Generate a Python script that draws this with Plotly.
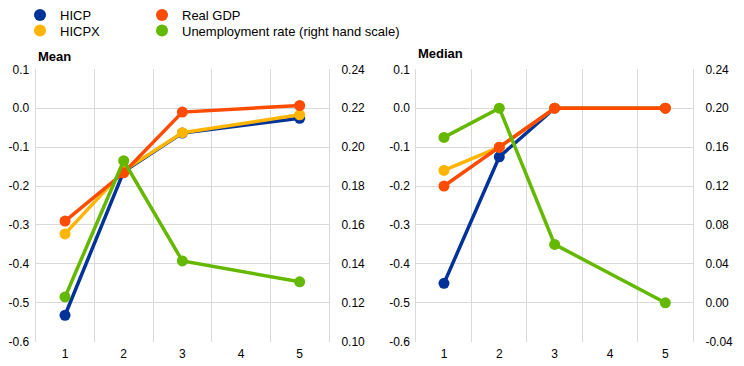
import plotly.graph_objects as go

x = [1, 2, 3, 4, 5]

mean_hicp = [-0.532, -0.163, -0.064, None, -0.026]
mean_hicpx = [-0.323, -0.160, -0.063, None, -0.017]
mean_gdp = [-0.290, -0.166, -0.010, None, 0.007]
mean_unemp = [0.123, 0.193, 0.1415, None, 0.1308]

med_hicp = [-0.45, -0.125, 0.0, None, 0.0]
med_hicpx = [-0.16, -0.10, 0.0, None, 0.0]
med_gdp = [-0.20, -0.10, 0.0, None, 0.0]
med_unemp = [0.17, 0.20, 0.06, None, 0.0]

left_ticks = [0.1, 0.0, -0.1, -0.2, -0.3, -0.4, -0.5, -0.6]
mean_right_ticks = [0.24, 0.22, 0.20, 0.18, 0.16, 0.14, 0.12, 0.10]
med_right_ticks = [0.24, 0.20, 0.16, 0.12, 0.08, 0.04, 0.00, -0.04]

names = ["HICP", "HICPX", "Real GDP", "Unemployment rate (right hand scale)"]
colors = ["#003299", "#FFB400", "#FF4B00", "#65B800"]

FONT = "Liberation Sans, Arial, sans-serif"
GRID = "#d9d9d9"
W, H = 744, 366

fig = go.Figure()

def add_panel(series, xa, ya_left, ya_right):
    for i in range(4):
        ya = ya_right if i == 3 else ya_left
        fig.add_trace(go.Scatter(
            x=x, y=series[i], mode="lines+markers", connectgaps=True,
            line=dict(color=colors[i], width=3.5),
            marker=dict(color=colors[i], size=11),
            xaxis=xa, yaxis=ya, showlegend=False, hoverinfo="skip"))

add_panel([mean_hicp, mean_hicpx, mean_gdp, mean_unemp], "x", "y", "y2")
add_panel([med_hicp, med_hicpx, med_gdp, med_unemp], "x2", "y3", "y4")

# one legend per entry, placed in a 2x2 grid
leg_ids = ["legend", "legend2", "legend3", "legend4"]
for i in range(4):
    fig.add_trace(go.Scatter(
        x=[None], y=[None], mode="markers", name=names[i],
        marker=dict(color=colors[i], size=12),
        legend=leg_ids[i]))

ydom = [1 - 341.7 / H, 1 - 69.3 / H]
xdom1 = [35.7 / W, 329 / W]
xdom2 = [416.3 / W, 693 / W]

xcommon = dict(range=[0.5, 5.5], tickvals=x, ticktext=[str(v) for v in x],
               showgrid=False, zeroline=False, showline=False, ticks="",
               tickfont=dict(family=FONT, size=12, color="#000"),
               minor=dict(tick0=0.5, dtick=1, showgrid=True, gridcolor=GRID, gridwidth=1),
               fixedrange=True, ticklabelstandoff=3, automargin=False)

ycommon = dict(showgrid=True, gridcolor=GRID, gridwidth=1, zeroline=False,
               showline=True, linecolor=GRID, linewidth=1, ticks="", fixedrange=True,
               tickfont=dict(family=FONT, size=12, color="#000"), automargin=False)

legfont = dict(family=FONT, size=13, color="#000")

def leg(px, py):
    return dict(x=px / W, y=1 - py / H, xanchor="left", yanchor="top", orientation="v",
                font=legfont, bgcolor="rgba(0,0,0,0)", itemwidth=30)

fig.update_layout(
    width=W, height=H,
    margin=dict(l=0, r=0, t=0, b=0),
    plot_bgcolor="white", paper_bgcolor="white",
    xaxis=dict(domain=xdom1, anchor="y", **xcommon),
    xaxis2=dict(domain=xdom2, anchor="y3", **xcommon),
    yaxis=dict(domain=ydom, anchor="x", range=[-0.6, 0.1], tickvals=left_ticks,
               ticktext=[f"{v:.1f}" for v in left_ticks], ticklabelstandoff=3, **ycommon),
    yaxis2=dict(domain=ydom, anchor="x", overlaying="y", side="right", range=[0.10, 0.24],
                tickvals=mean_right_ticks, ticktext=[f"{v:.2f}" for v in mean_right_ticks],
                ticklabelstandoff=9, **{**ycommon, "showgrid": False}),
    yaxis3=dict(domain=ydom, anchor="x2", range=[-0.6, 0.1], tickvals=left_ticks,
                ticktext=[f"{v:.1f}" for v in left_ticks], ticklabelstandoff=3, **ycommon),
    yaxis4=dict(domain=ydom, anchor="x2", overlaying="y3", side="right", range=[-0.04, 0.24],
                tickvals=med_right_ticks, ticktext=[f"{v:.2f}" for v in med_right_ticks],
                ticklabelstandoff=9, **{**ycommon, "showgrid": False}),
    legend=leg(20, 0),
    legend2=leg(20, 15.5),
    legend3=leg(142, 0),
    legend4=leg(142, 15.5),
    annotations=[
        dict(text="<b>Mean</b>", x=36 / W, y=1 - 56.5 / H, xref="paper", yref="paper",
             xanchor="left", yanchor="middle", showarrow=False,
             font=dict(family=FONT, size=13, color="#000")),
        dict(text="<b>Median</b>", x=416 / W, y=1 - 53.5 / H, xref="paper", yref="paper",
             xanchor="left", yanchor="middle", showarrow=False,
             font=dict(family=FONT, size=13, color="#000")),
    ],
)

fig.write_html("out.html", config={"displayModeBar": False},
               post_script="document.body.style.margin='0';")
